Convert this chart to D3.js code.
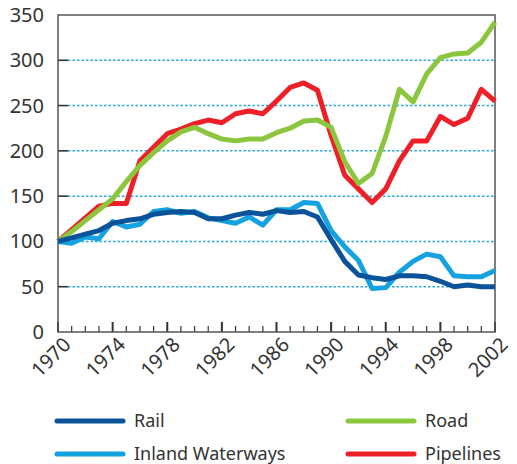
<!DOCTYPE html>
<html>
<head>
<meta charset="utf-8">
<script src="https://cdn.jsdelivr.net/npm/d3@7"></script>
<style>
  body { margin: 0; background: #fff; }
  svg text { font-family: "Noto Sans", "Open Sans", sans-serif; fill: #333; }
</style>
</head>
<body>
<svg id="chart" width="517" height="464"></svg>
<script>
// index values, 1970 = 100
var years = d3.range(1970, 2003);
var rail = [100, 104, 108, 112, 120, 123, 125, 130, 132, 133, 132, 125, 125, 129, 132, 130, 134,
            132, 133, 127, 102, 78, 63, 60, 58, 62, 62, 61, 56, 50, 52, 50, 50];
var inland = [100, 98, 105, 103, 122, 116, 119, 133, 135, 131, 133, 126, 123, 120, 127, 118, 135,
              135, 143, 142, 112, 94, 79, 48, 49, 66, 78, 86, 83, 62, 61, 61, 68];
var road = [100, 111, 123, 135, 147, 166, 184, 198, 211, 221, 226, 219, 213, 211, 213, 213, 220,
            225, 233, 234, 226, 188, 164, 175, 216, 268, 254, 285, 303, 307, 308, 320, 342];
var pipelines = [100, 113, 126, 139, 142, 142, 189, 204, 219, 224, 230, 234, 231, 241, 244, 241, 255,
                 270, 275, 267, 217, 173, 158, 143, 158, 189, 211, 211, 238, 229, 236, 268, 255];
var yTicks = [0, 50, 100, 150, 200, 250, 300, 350];
var xLabels = [1970, 1974, 1978, 1982, 1986, 1990, 1994, 1998, 2002];

var series = [
    {name: "Pipelines", values: pipelines, color: "#ee1f26"},
    {name: "Road", values: road, color: "#8cc63e"},
    {name: "Inland Waterways", values: inland, color: "#14a2e0"},
    {name: "Rail", values: rail, color: "#0a5299"}
];

var svg = d3.select("#chart");
var x = d3.scaleLinear().domain([1970, 2002]).range([58, 495]);
var y = d3.scaleLinear().domain([0, 350]).range([332, 15]);

/* dotted grid */
svg.append("g").selectAll("line")
    .data(yTicks.filter(function (d) { return d > 0 && d < 350; }))
    .enter().append("line")
    .attr("x1", x(1970) + 10).attr("x2", x(2002))
    .attr("y1", function (d) { return y(d); }).attr("y2", function (d) { return y(d); })
    .attr("stroke", "#2aa9e0").attr("stroke-width", 1.5)
    .attr("stroke-dasharray", "2.5,2");

/* y ticks inside the frame */
svg.append("g").selectAll("line")
    .data(yTicks.filter(function (d) { return d > 0 && d < 350; }))
    .enter().append("line")
    .attr("x1", x(1970)).attr("x2", x(1970) + 10)
    .attr("y1", function (d) { return y(d); }).attr("y2", function (d) { return y(d); })
    .attr("stroke", "#333").attr("stroke-width", 1.6);

/* x ticks, every year, longer every 4 years */
svg.append("g").selectAll("line")
    .data(years)
    .enter().append("line")
    .attr("x1", function (d) { return x(d); }).attr("x2", function (d) { return x(d); })
    .attr("y1", y(0))
    .attr("y2", function (d) { return (d - 1970) % 4 === 0 ? y(0) - 10 : y(0) - 6; })
    .attr("stroke", "#333")
    .attr("stroke-width", function (d) { return (d - 1970) % 4 === 0 ? 2 : 1.2; });

/* frame */
svg.append("rect")
    .attr("x", x(1970)).attr("y", y(350))
    .attr("width", x(2002) - x(1970)).attr("height", y(0) - y(350))
    .attr("fill", "none").attr("stroke", "#555").attr("stroke-width", 1.5);

/* y labels */
svg.append("g").selectAll("text")
    .data(yTicks)
    .enter().append("text")
    .attr("x", 44)
    .attr("y", function (d) { return y(d) + 7; })
    .attr("text-anchor", "end")
    .attr("font-size", 20)
    .text(function (d) { return d; });

/* x labels, rotated */
svg.append("g").selectAll("text")
    .data(xLabels)
    .enter().append("text")
    .attr("text-anchor", "end")
    .attr("font-size", 20)
    .attr("transform", function (d) { return "translate(" + (x(d) + 14) + "," + 346 + ") rotate(-45)"; })
    .text(function (d) { return d; });

/* lines */
var line = d3.line()
    .x(function (d, i) { return x(years[i]); })
    .y(function (d) { return y(d); });

svg.append("g").selectAll("path")
    .data(series)
    .enter().append("path")
    .attr("d", function (s) { return line(s.values); })
    .attr("fill", "none")
    .attr("stroke", function (s) { return s.color; })
    .attr("stroke-width", 5)
    .attr("stroke-linejoin", "round");

/* legend */
var legendItems = [
    {name: "Rail", color: "#0a5299", lx: 57, ly: 421},
    {name: "Road", color: "#8cc63e", lx: 348, ly: 421},
    {name: "Inland Waterways", color: "#14a2e0", lx: 57, ly: 454},
    {name: "Pipelines", color: "#ee1f26", lx: 348, ly: 454}
];
var legend = svg.append("g").selectAll("g")
    .data(legendItems)
    .enter().append("g");
legend.append("line")
    .attr("x1", function (d) { return d.lx; }).attr("x2", function (d) { return d.lx + 66; })
    .attr("y1", function (d) { return d.ly; }).attr("y2", function (d) { return d.ly; })
    .attr("stroke", function (d) { return d.color; })
    .attr("stroke-width", 5).attr("stroke-linecap", "round");
legend.append("text")
    .attr("x", function (d) { return d.lx + 77; })
    .attr("y", function (d) { return d.ly + 6; })
    .attr("font-size", 18)
    .text(function (d) { return d.name; });
</script>
</body>
</html>
